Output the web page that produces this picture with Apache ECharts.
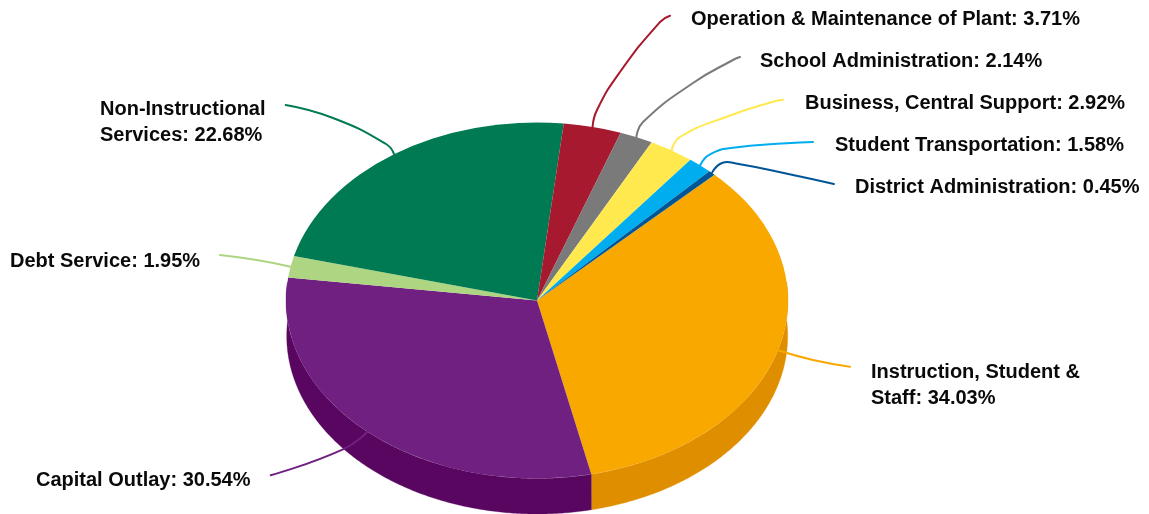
<!DOCTYPE html>
<html>
<head>
<meta charset="utf-8">
<style>html,body{margin:0;padding:0;background:#fff}#c{width:1149px;height:514px}</style>
<script src="https://cdn.jsdelivr.net/npm/echarts@6/dist/echarts.min.js"></script>
</head>
<body>
<div id="c"></div>
<script>
const categories = ["Instruction, Student &\nStaff", "Capital Outlay", "Debt Service", "Non-Instructional\nServices", "Operation & Maintenance of Plant", "School Administration", "Business, Central Support", "Student Transportation", "District Administration"];
const values = [34.03, 30.54, 1.95, 22.68, 3.71, 2.14, 2.92, 1.58, 0.45];
const topColors = ["#f9a800", "#6f2080", "#aed581", "#007a53", "#a6192e", "#7a7a7a", "#ffe94f", "#00aeef", "#005596"];
const sideColors = ["#df8e00", "#590660", "#9cc074", "#006d4a", "#951629", "#6d6d6d", "#e5d147", "#009cd6", "#004c86"];

// label anchor (left, first-line middle)
const labelAnchors = [[871,372],[36,480],[10,261],[100,109],[691,19],[760,61],[805,103],[835,145],[855,187]];
// leader line waypoints after the rim point
const leaderPaths = [
  [[813,360],[850,366.7]],
  [[343,449.3],[270.7,475.3]],
  [[256.7,260],[220,255]],
  [[386,144],[333,118],[285.7,105]],
  [[597,110],[620,72],[660,22],[670,15.7]],
  [[643,122],[693,83],[733,60],[740,57]],
  [[680,137],[726.7,116.7],[773,101.7],[783,99.7]],
  [[710,154.3],[733,147.7],[786.7,143.3],[813,142]],
  [[722,163],[736,163.5],[793,175],[834,184]]
];

const cx = 537, cy = 300.5, rx = 251, ry = 178;
const botCx = 537.2, botRx = 250.5, botCy = 336, botRy = 178;
const startDeg = 45;
const total = values.reduce((a,b)=>a+b,0);
const starts = [];
values.reduce((acc,v,i)=>{starts[i]=acc;return acc+v/total*360;},startDeg);
const rad = d => d*Math.PI/180;
const topPt = d => [cx+rx*Math.sin(rad(d)), cy-ry*Math.cos(rad(d))];
const botPt = d => [botCx+botRx*Math.sin(rad(d)), botCy-botRy*Math.cos(rad(d))];
const rows = values.map(v=>[v]);
const base = {type:'custom', coordinateSystem:'none', silent:true, animation:false, clip:false, data:rows};

const chart = echarts.init(document.getElementById('c'), null, {renderer:'canvas'});
chart.setOption({
  backgroundColor:'#fff',
  animation:false,
  series:[
    Object.assign({}, base, {z:1, renderItem(p, api){
      const i=p.dataIndex, a=starts[i], sweep=api.value(0)/total*360, b=a+sweep;
      // visible wall: clockwise-from-top angles in the front half
      const lo=Math.max(a,84), hi=Math.min(b,276);
      if(hi<=lo) return {type:'group',children:[]};
      const pts=[];
      for(let d=lo;d<=hi;d+=0.5) pts.push(topPt(d));
      pts.push(topPt(hi));
      pts.push(botPt(hi));
      for(let d=hi;d>=lo;d-=0.5) pts.push(botPt(d));
      pts.push(botPt(lo));
      return {type:'polygon',shape:{points:pts},style:{fill:sideColors[i],stroke:sideColors[i],lineWidth:0.3}};
    }}),
    Object.assign({}, base, {z:2, renderItem(p, api){
      const i=p.dataIndex, a=starts[i], b=a+api.value(0)/total*360;
      return {type:'sector',x:cx,y:cy,scaleX:1,scaleY:ry/rx,
        shape:{cx:0,cy:0,r0:0,r:rx,startAngle:rad(a-90),endAngle:rad(b-90),clockwise:true},
        style:{fill:topColors[i]}};
    }}),
    Object.assign({}, base, {z:3, renderItem(p, api){
      const i=p.dataIndex, mid=starts[i]+api.value(0)/total*180;
      const pts=[topPt(mid)].concat(leaderPaths[i]);
      return {type:'polyline',shape:{points:pts,smooth:0.5},
        style:{fill:null,stroke:topColors[i],lineWidth:2,lineCap:'round',lineJoin:'round'}};
    }}),
    Object.assign({}, base, {z:4, renderItem(p, api){
      const i=p.dataIndex;
      const txt=categories[i]+': '+api.value(0).toFixed(2)+'%';
      return {type:'text',x:labelAnchors[i][0],y:labelAnchors[i][1]-13,
        style:{text:txt,fill:'#0a0a0a',font:'bold 20px "Liberation Sans", Arial, sans-serif',
          lineHeight:26,align:'left',verticalAlign:'top'}};
    }})
  ]
});
</script>
</body>
</html>
